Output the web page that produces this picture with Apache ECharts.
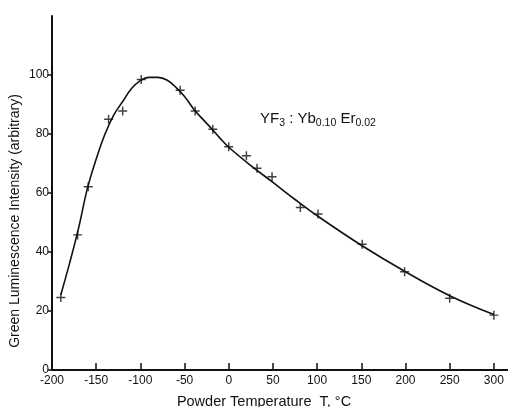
<!DOCTYPE html>
<html><head><meta charset="utf-8">
<script src="https://cdn.jsdelivr.net/npm/echarts@6/dist/echarts.min.js"></script>
<style>html,body{margin:0;padding:0;background:#fff}#c{width:508px;height:407px}</style>
</head><body><div id="c"></div>
<script>
// Measured points (+ markers): temperature °C, intensity (arbitrary)
const pointT = [-190, -171, -159, -136, -120, -99, -55, -38, -18, 0, 20, 32, 49, 81, 101, 151, 199, 250, 300];
const pointI = [24.6, 45.8, 62.1, 85.0, 87.8, 98.5, 94.8, 87.8, 81.6, 75.7, 72.6, 68.4, 65.5, 55.1, 52.9, 42.6, 33.3, 24.3, 18.6];
// Fitted smooth curve
const curveT = [-190, -180, -170, -160, -150, -140, -130, -120, -110, -100, -90, -80, -70, -60, -50, -40, -30, -20, -10, 0, 25, 50, 75, 100, 150, 200, 250, 300];
const curveI = [25.5, 36.3, 48, 61.5, 71.5, 80, 86.5, 91, 95.4, 98.1, 99.2, 99.2, 98.3, 95.9, 92.7, 88.6, 85.2, 82, 78.6, 75.5, 69.3, 63.6, 57.8, 52.3, 42.3, 33.3, 25.2, 18.8];
const xTicks = [-200, -150, -100, -50, 0, 50, 100, 150, 200, 250, 300];
const yTicks = [0, 20, 40, 60, 80, 100];
const xTitle = 'Powder Temperature  T, °C';
const yTitle = 'Green Luminescence Intensity (arbitrary)';

const FONT = 'Liberation Sans';
const INK = '#111';
const plus = 'path://M3.35,0H4.65V3.35H8V4.65H4.65V8H3.35V4.65H0V3.35H3.35Z';

const chart = echarts.init(document.getElementById('c'), null, {renderer: 'canvas'});
chart.setOption({
  animation: false,
  backgroundColor: '#fff',
  textStyle: {fontFamily: FONT, color: INK},
  grid: {left: 52, right: 0, top: 16, bottom: 37, containLabel: false, outerBoundsMode: 'none'},
  title: {
    left: 255, top: 106,
    text: '{a|YF}{s|3}{a| : Yb}{s|0.10}{a| Er}{s|0.02}',
    textStyle: {
      fontWeight: 'normal',
      rich: {
        a: {fontFamily: FONT, fontSize: 15, fontWeight: 'normal', color: INK, lineHeight: 18, verticalAlign: 'top'},
        s: {fontFamily: FONT, fontSize: 10.5, fontWeight: 'normal', color: INK, lineHeight: 10, verticalAlign: 'bottom'}
      }
    }
  },
  xAxis: {
    type: 'value', min: -200, max: 316,
    name: xTitle, nameLocation: 'middle', nameGap: 24, nameMoveOverlap: false,
    nameTextStyle: {fontFamily: FONT, fontSize: 14.5, color: INK, padding: [0, 32, 0, 0]},
    axisLine: {show: true, onZero: false, lineStyle: {color: INK, width: 2}},
    axisTick: {show: true, inside: true, length: 7, customValues: xTicks, lineStyle: {color: INK, width: 1.5}},
    axisLabel: {customValues: xTicks, fontFamily: FONT, fontSize: 12, color: INK, margin: 5,
      formatter: v => v < 0 ? '-' + Math.abs(v) : String(v)},
    splitLine: {show: false}
  },
  yAxis: {
    type: 'value', min: 0, max: 120,
    name: yTitle, nameLocation: 'middle', nameGap: 30, nameMoveOverlap: false,
    nameTextStyle: {fontFamily: FONT, fontSize: 14, color: INK, padding: [0, 56, 0, 0]},
    axisLine: {show: true, onZero: false, lineStyle: {color: INK, width: 2}},
    axisTick: {show: true, inside: false, length: 4, customValues: yTicks, lineStyle: {color: INK, width: 1.5}},
    axisLabel: {customValues: yTicks, fontFamily: FONT, fontSize: 12, color: INK, margin: 3},
    splitLine: {show: false}
  },
  series: [
    {
      type: 'line', name: 'fit', smooth: 0.4, showSymbol: false, z: 2,
      data: curveT.map((t, i) => [t, curveI[i]]),
      lineStyle: {color: INK, width: 1.6}
    },
    {
      type: 'scatter', name: 'measured', z: 3,
      symbol: plus, symbolSize: 9,
      itemStyle: {color: INK},
      data: pointT.map((t, i) => [t, pointI[i]])
    }
  ]
});
</script></body></html>
